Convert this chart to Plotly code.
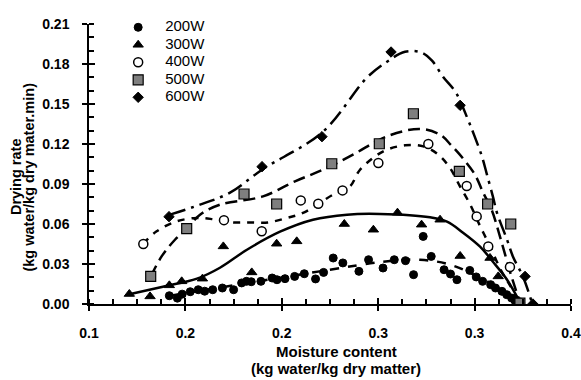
import plotly.graph_objects as go

# ---- measured points (moisture content, drying rate) ----
x_200 = [0.150, 0.155, 0.158, 0.163, 0.168, 0.172, 0.177, 0.183, 0.190, 0.195, 0.198, 0.201,
         0.207, 0.214, 0.217, 0.222, 0.228, 0.234, 0.241, 0.246, 0.252, 0.258, 0.268, 0.274,
         0.283, 0.290, 0.297, 0.302, 0.308, 0.313, 0.321, 0.325, 0.329, 0.337, 0.341, 0.345,
         0.350, 0.353, 0.357, 0.360, 0.363, 0.365, 0.368]
y_200 = [0.0062, 0.0044, 0.0074, 0.0092, 0.0107, 0.0096, 0.0107, 0.0120, 0.0107, 0.0158, 0.0170, 0.0167,
         0.0170, 0.0195, 0.0182, 0.0190, 0.0207, 0.0227, 0.0188, 0.0237, 0.0345, 0.0308, 0.0245, 0.0332,
         0.0270, 0.0332, 0.0325, 0.0220, 0.0507, 0.0357, 0.0257, 0.0225, 0.0182, 0.0252, 0.0203, 0.0170,
         0.0145, 0.0120, 0.0095, 0.0070, 0.0045, 0.0027, 0.0008]

x_300 = [0.1251, 0.138, 0.150, 0.1577, 0.1706, 0.1836, 0.2013, 0.2168, 0.2293, 0.2589, 0.277,
         0.292, 0.307, 0.3185, 0.331, 0.3496, 0.3547, 0.3672]
y_300 = [0.0075, 0.0057, 0.0140, 0.0170, 0.0190, 0.0432, 0.0237, 0.0452, 0.0470, 0.0600, 0.0557,
         0.0685, 0.0595, 0.0632, 0.0360, 0.0345, 0.0207, 0.0020]

x_400 = [0.1338, 0.184, 0.2075, 0.2318, 0.2427, 0.2578, 0.2801, 0.3112, 0.3351, 0.3413, 0.3485,
         0.362, 0.3682]
y_400 = [0.0450, 0.0629, 0.0545, 0.0777, 0.0752, 0.0852, 0.1058, 0.1200, 0.0885, 0.0657, 0.0432,
         0.0278, 0.0010]

x_500 = [0.1384, 0.1608, 0.1965, 0.2168, 0.2511, 0.2807, 0.3019, 0.3305, 0.3481, 0.3625, 0.3682]
y_500 = [0.0207, 0.0565, 0.0825, 0.0750, 0.1052, 0.1202, 0.1427, 0.0995, 0.0750, 0.0600, 0.0007]

x_600 = [0.1498, 0.2077, 0.245, 0.288, 0.331, 0.3714, 0.3763]
y_600 = [0.0655, 0.1030, 0.1255, 0.1890, 0.1490, 0.0207, 0.0000]

# ---- fitted trend curves ----
fx_200 = [0.1504, 0.2002, 0.250, 0.283, 0.306, 0.3247, 0.3434, 0.3589, 0.3683]
fy_200 = [0.0062, 0.0160, 0.0257, 0.0317, 0.0332, 0.0295, 0.0197, 0.0092, 0.0010]

fx_300 = [0.1237, 0.146, 0.1672, 0.1815, 0.1983, 0.2189, 0.2394, 0.2606, 0.2811, 0.3122,
          0.3228, 0.3328, 0.3434, 0.3514, 0.3602, 0.3683]
fy_300 = [0.0070, 0.0130, 0.0190, 0.0272, 0.0407, 0.0542, 0.0632, 0.0670, 0.0675, 0.0650,
          0.0617, 0.0535, 0.0430, 0.0317, 0.0182, 0.0010]

fx_400 = [0.1336, 0.1421, 0.1546, 0.167, 0.1772, 0.1896, 0.2002, 0.2114, 0.223, 0.2332, 0.2519,
          0.2624, 0.2687, 0.2832, 0.2967, 0.3081, 0.3174, 0.3247, 0.3309, 0.3373, 0.3434, 0.3497,
          0.3565, 0.3620, 0.3683]
fy_400 = [0.0452, 0.0545, 0.0620, 0.0645, 0.0636, 0.0612, 0.0612, 0.0612, 0.0645, 0.0683, 0.0820,
          0.0882, 0.1007, 0.1145, 0.1190, 0.1182, 0.1120, 0.1020, 0.0882, 0.0745, 0.0585, 0.0430,
          0.0250, 0.0140, 0.0010]

fx_500 = [0.1384, 0.1452, 0.1535, 0.1608, 0.1691, 0.1815, 0.2083, 0.2282, 0.2456, 0.2643, 0.2853,
          0.306, 0.3185, 0.3257, 0.333, 0.3402, 0.3454, 0.3506, 0.3564, 0.3626, 0.3683]
fy_500 = [0.0205, 0.0357, 0.0482, 0.0565, 0.0670, 0.0745, 0.0807, 0.0920, 0.1007, 0.1120, 0.1257,
          0.1313, 0.1270, 0.1187, 0.1088, 0.0970, 0.0833, 0.0707, 0.0480, 0.0220, 0.0010]

fx_600 = [0.1504, 0.1691, 0.1878, 0.2077, 0.2456, 0.2729, 0.2855, 0.2967, 0.3072, 0.3135, 0.3203,
          0.3284, 0.3359, 0.3396, 0.3446, 0.3477, 0.3514, 0.3539, 0.3602, 0.3639, 0.3701, 0.3757]
fy_600 = [0.0670, 0.0745, 0.0835, 0.1007, 0.1292, 0.1697, 0.1817, 0.1892, 0.1885, 0.1825, 0.1705,
          0.1585, 0.1382, 0.1270, 0.1105, 0.0970, 0.0805, 0.0685, 0.0482, 0.0355, 0.0205, 0.0010]

x_ticks = [0.10, 0.16, 0.22, 0.28, 0.34, 0.40]
x_ticktext = ["0.1", "0.2", "0.2", "0.3", "0.3", "0.4"]
y_ticks = [0.00, 0.03, 0.06, 0.09, 0.12, 0.15, 0.18, 0.21]

x_title = ["Moisture content", "(kg water/kg dry matter)"]
y_title = ["Drying rate", "(kg water/kg dry mater.min)"]

FONT = "Arial, Liberation Sans, sans-serif"
LW = 2.5

fig = go.Figure()

curves = [
    (fx_200, fy_200, "dash"),
    (fx_300, fy_300, "solid"),
    (fx_400, fy_400, "7px,7px"),
    (fx_500, fy_500, "12px,6px"),
    (fx_600, fy_600, "16px,6px,3px,6px"),
]
for cx, cy, dash in curves:
    fig.add_trace(go.Scatter(x=cx, y=cy, mode="lines", showlegend=False, hoverinfo="skip",
                             line=dict(color="black", width=LW, dash=dash, shape="spline", smoothing=1.0)))

series = [
    ("200W", x_200, y_200, dict(symbol="circle", size=8, color="black", line=dict(color="black", width=1))),
    ("300W", x_300, y_300, dict(symbol="triangle-up", size=9, color="black", line=dict(color="black", width=1))),
    ("400W", x_400, y_400, dict(symbol="circle", size=9, color="white", line=dict(color="black", width=1.5))),
    ("500W", x_500, y_500, dict(symbol="square", size=10, color="#7f7f7f", line=dict(color="black", width=1.2))),
    ("600W", x_600, y_600, dict(symbol="diamond", size=8, color="black", line=dict(color="black", width=1))),
]
legend_ids = ["legend", "legend2", "legend3", "legend4", "legend5"]
for (name, sx, sy, mk), lg in zip(series, legend_ids):
    fig.add_trace(go.Scatter(x=sx, y=sy, mode="markers", marker=mk, legend=lg,
                             name='<span style="font-size:15px">' + name + "</span>"))

# overlay axes carry the inner half of the major ticks
fig.add_trace(go.Scatter(x=[None], y=[None], xaxis="x2", yaxis="y2", showlegend=False, hoverinfo="skip"))

axis_font = dict(family=FONT, size=14, color="black", weight="bold")

# one compact legend box per series so the rows sit close together
legend_boxes = {}
for i, lg in enumerate(legend_ids):
    legend_boxes[lg] = dict(x=0.046, y=1.04 - 0.0625 * i, xanchor="left", yanchor="top",
                            bgcolor="rgba(0,0,0,0)", itemwidth=44,
                            font=dict(family=FONT, size=10, color="black"))

# axis titles: one annotation per line for tight line spacing
title_notes = [
    dict(text=x_title[0], x=0.5145, y=-0.168, textangle=0, size=15),
    dict(text=x_title[1], x=0.5118, y=-0.232, textangle=0, size=15),
    dict(text=y_title[0], x=-0.1525, y=0.455, textangle=-90, size=14.5),
    dict(text=y_title[1], x=-0.1245, y=0.455, textangle=-90, size=14.5),
]
annotations = [
    dict(text="<b>" + t["text"] + "</b>", xref="paper", yref="paper", x=t["x"], y=t["y"],
         xanchor="center", yanchor="middle", textangle=t["textangle"], showarrow=False,
         font=dict(family=FONT, size=t["size"], color="black"))
    for t in title_notes
]

fig.update_layout(
    width=581, height=380,
    margin=dict(l=89, r=10, t=24, b=76),
    paper_bgcolor="white", plot_bgcolor="white",
    font=dict(family=FONT, color="black"),
    xaxis=dict(range=[0.1, 0.4], tickmode="array", tickvals=x_ticks, ticktext=x_ticktext,
               automargin=False,
               showgrid=False, zeroline=False, showline=True, linecolor="black", linewidth=1.5,
               ticks="outside", ticklen=5, tickwidth=1.5, tickcolor="black",
               tickfont=axis_font, ticklabelstandoff=10,
               minor=dict(tickmode="linear", tick0=0.1, dtick=0.015, ticks="inside",
                          ticklen=5, tickwidth=1.5, tickcolor="black")),
    yaxis=dict(range=[0, 0.21], tickmode="array", tickvals=y_ticks, tickformat=".2f",
               automargin=False,
               showgrid=False, zeroline=False, showline=True, linecolor="black", linewidth=1.5,
               ticks="outside", ticklen=5, tickwidth=1.5, tickcolor="black",
               tickfont=axis_font, ticklabelstandoff=10,
               minor=dict(tickmode="linear", tick0=0, dtick=0.01, ticks="inside",
                          ticklen=5, tickwidth=1.5, tickcolor="black")),
    xaxis2=dict(overlaying="x", matches="x", anchor="y2", tickmode="array", tickvals=x_ticks,
                automargin=False, showticklabels=False, showgrid=False, zeroline=False, showline=False,
                ticks="inside", ticklen=6, tickwidth=1.5, tickcolor="black"),
    yaxis2=dict(overlaying="y", matches="y", anchor="x2", tickmode="array", tickvals=y_ticks,
                automargin=False, showticklabels=False, showgrid=False, zeroline=False, showline=False,
                ticks="inside", ticklen=6, tickwidth=1.5, tickcolor="black"),
    annotations=annotations,
    **legend_boxes,
)

fig.write_html("out.html")
